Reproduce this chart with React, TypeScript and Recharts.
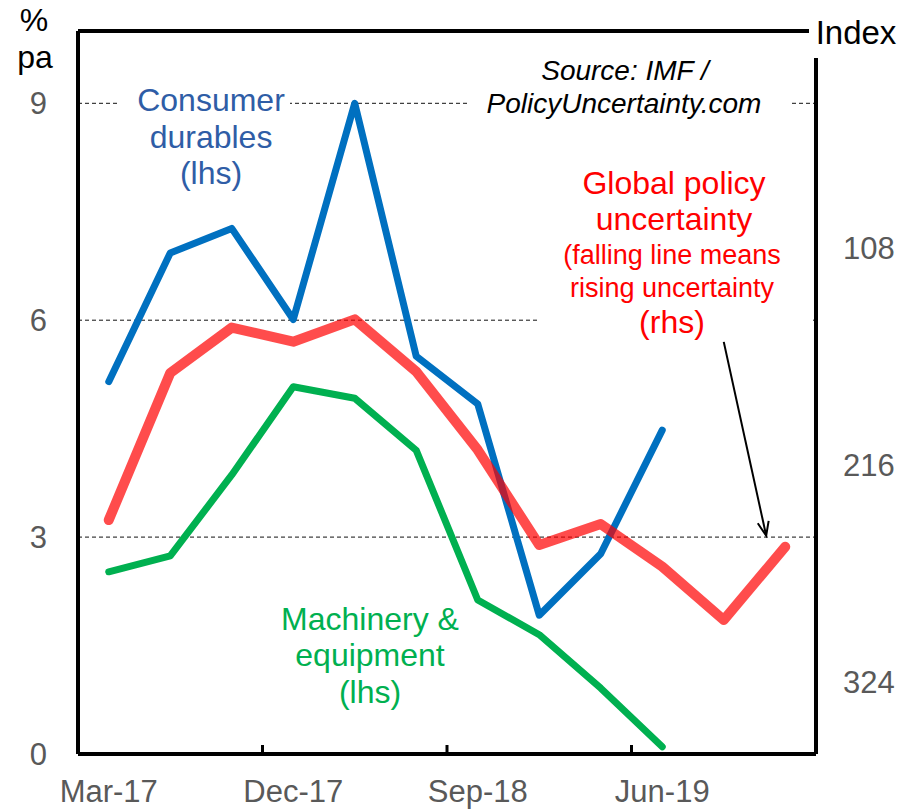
import { LineChart, Line, XAxis, YAxis, CartesianGrid, ReferenceLine } from 'recharts';

// quarterly data, left axis in % pa, right axis is an index (inverted)
const quarters = ['Mar-17', 'Jun-17', 'Sep-17', 'Dec-17', 'Mar-18', 'Jun-18', 'Sep-18', 'Dec-18', 'Mar-19', 'Jun-19', 'Sep-19', 'Dec-19'];
const consumerDurables = [5.15, 6.93, 7.27, 6.01, 9.0, 5.5, 4.84, 1.92, 2.77, 4.48, null, null];
const machinery = [2.52, 2.74, 3.86, 5.08, 4.92, 4.2, 2.13, 1.65, 0.91, 0.1, null, null];
const policyUncertainty = [243.5, 170.3, 147.7, 154.7, 143.6, 169.6, 208.6, 255.9, 245.5, 266.7, 293.3, 256.8];

const labelIdx = [0, 3, 6, 9];
const boundaryIdx = [2.5, 5.5, 8.5];
const leftTicks = [0, 3, 6, 9];
const rightTicks = [108, 216, 324];

const data = quarters.map((q, i) => ({
  i,
  q,
  durables: consumerDurables[i],
  machinery: machinery[i],
  policy: policyUncertainty[i],
}));

const FONT = '"Liberation Sans", Arial, sans-serif';
const GREY = '#595959';
const AXIS = { stroke: '#000', strokeWidth: 4 };

const XTick = (props: any) => {
  const { x, y, payload } = props;
  const v = payload.value;
  if (!Number.isInteger(v)) {
    return <line x1={x} x2={x} y1={y} y2={y - 9} stroke="#000" strokeWidth={3} />;
  }
  return (
    <text x={x} y={y + 37} dy="0.355em" textAnchor="middle" fill={GREY} fontSize={31} fontFamily={FONT}>
      {quarters[v]}
    </text>
  );
};

const Arrow = (p: any) => {
  const { x1, y1, x2, y2 } = p;
  const a = Math.atan2(y2 - y1, x2 - x1);
  const h = 15;
  const s = 0.38;
  return (
    <g>
      <line x1={x1} y1={y1} x2={x2} y2={y2} stroke="#000" strokeWidth={2} />
      <path
        d={`M${x2 - h * Math.cos(a - s)},${y2 - h * Math.sin(a - s)} L${x2},${y2} L${x2 - h * Math.cos(a + s)},${y2 - h * Math.sin(a + s)}`}
        fill="none"
        stroke="#000"
        strokeWidth={2}
      />
    </g>
  );
};

// one line of text, centred on (cx, cy)
const Txt = ({ cx, cy, size = 32, color = '#000', italic = false, w = 340, children }: any) => (
  <div
    style={{
      position: 'absolute',
      left: cx - w / 2,
      top: cy - 20,
      width: w,
      height: 40,
      lineHeight: '40px',
      textAlign: 'center',
      fontSize: size,
      color,
      fontStyle: italic ? 'italic' : 'normal',
      fontFamily: FONT,
      whiteSpace: 'nowrap',
    }}
  >
    {children}
  </div>
);

const Mask = ({ x, y, w, h }: any) => (
  <div style={{ position: 'absolute', left: x, top: y, width: w, height: h, background: '#fff' }} />
);

export default function App() {
  return (
    <div style={{ position: 'absolute', left: 0, top: 0, width: 902, height: 809, background: '#fff', fontFamily: FONT }}>
      <LineChart width={902} height={809} data={data} margin={{ top: 31, right: 0, bottom: 0, left: 0 }}>
        <CartesianGrid
          yAxisId="left"
          xAxisId="x"
          vertical={false}
          stroke="#111"
          strokeWidth={1}
          strokeDasharray="4 3"
        />
        <XAxis
          xAxisId="x"
          dataKey="i"
          type="number"
          domain={[-0.5, 11.5]}
          ticks={[...labelIdx, ...boundaryIdx].sort((a, b) => a - b)}
          interval={0}
          height={55}
          tickSize={0}
          tickMargin={0}
          tickLine={false}
          axisLine={AXIS}
          tick={<XTick />}
        />
        <YAxis
          yAxisId="left"
          domain={[0, 10]}
          ticks={leftTicks}
          interval={0}
          width={78}
          tickSize={0}
          tickMargin={31}
          tickLine={false}
          axisLine={AXIS}
          tick={{ fill: GREY, fontSize: 31, fontFamily: FONT }}
        />
        <YAxis
          yAxisId="right"
          orientation="right"
          reversed
          domain={[0, 360]}
          ticks={rightTicks}
          interval={0}
          width={86}
          tickSize={0}
          tickMargin={27}
          tickLine={false}
          axisLine={AXIS}
          tick={{ fill: GREY, fontSize: 31, fontFamily: FONT }}
        />
        {/* top frame line */}
        <ReferenceLine xAxisId="x" yAxisId="left" y={10} stroke="#000" strokeWidth={4} ifOverflow="visible" />
        <Line
          xAxisId="x"
          yAxisId="left"
          dataKey="durables"
          stroke="#0070C0"
          strokeWidth={7}
          strokeLinecap="round"
          strokeLinejoin="round"
          dot={false}
          activeDot={false}
          isAnimationActive={false}
        />
        <Line
          xAxisId="x"
          yAxisId="left"
          dataKey="machinery"
          stroke="#00B050"
          strokeWidth={7}
          strokeLinecap="round"
          strokeLinejoin="round"
          dot={false}
          activeDot={false}
          isAnimationActive={false}
        />
        <Line
          xAxisId="x"
          yAxisId="right"
          dataKey="policy"
          stroke="#FF0000"
          strokeOpacity={0.7}
          strokeWidth={10}
          strokeLinecap="round"
          strokeLinejoin="round"
          dot={false}
          activeDot={false}
          isAnimationActive={false}
        />
        <ReferenceLine
          xAxisId="x"
          yAxisId="left"
          segment={[{ x: 10.0, y: 5.7 }, { x: 10.69, y: 3.02 }]}
          ifOverflow="visible"
          shape={<Arrow />}
        />
      </LineChart>

      {/* white boxes behind the annotations hide parts of the gridlines */}
      <Mask x={118} y={92} w={172} h={22} />
      <Mask x={468} y={92} w={322} h={22} />
      <Mask x={537} y={310} w={275} h={20} />
      {/* gap where the top frame meets the right axis */}
      <Mask x={809} y={25} w={14} h={33} />

      <Txt cx={34} cy={20}>%</Txt>
      <Txt cx={35} cy={57}>pa</Txt>
      <Txt cx={856} cy={33} size={33}>Index</Txt>

      <Txt cx={211} cy={100} color="#2F5DA6">Consumer</Txt>
      <Txt cx={211} cy={137} color="#2F5DA6">durables</Txt>
      <Txt cx={211} cy={173} color="#2F5DA6">(lhs)</Txt>

      <Txt cx={625} cy={71} size={28} italic>Source: IMF /</Txt>
      <Txt cx={624} cy={104} size={28} italic>PolicyUncertainty.com</Txt>

      <Txt cx={674} cy={183} color="#FF0000">Global policy</Txt>
      <Txt cx={674} cy={219} color="#FF0000">uncertainty</Txt>
      <Txt cx={672} cy={255} size={27} color="#FF0000">(falling line means</Txt>
      <Txt cx={672} cy={288} size={27} color="#FF0000">rising uncertainty</Txt>
      <Txt cx={672} cy={322} color="#FF0000">(rhs)</Txt>

      <Txt cx={370} cy={619} color="#00B050">Machinery &amp;</Txt>
      <Txt cx={370} cy={655} color="#00B050">equipment</Txt>
      <Txt cx={370} cy={692} color="#00B050">(lhs)</Txt>
    </div>
  );
}
